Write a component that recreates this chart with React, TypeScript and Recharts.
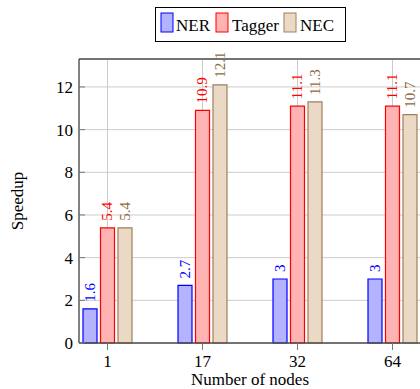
import { BarChart, Bar, XAxis, YAxis, CartesianGrid, LabelList } from "recharts";

const nodeCounts = ["1", "17", "32", "64"];
const nerSpeedup = [1.6, 2.7, 3, 3];
const taggerSpeedup = [5.4, 10.9, 11.1, 11.1];
const necSpeedup = [5.4, 12.1, 11.3, 10.7];
const yTicks = [0, 2, 4, 6, 8, 10, 12];

const seriesStyle = [
    { key: "NER", fill: "#b3b3ff", stroke: "#0000ff", text: "#0000ff" },
    { key: "Tagger", fill: "#ffb3b3", stroke: "#ff0000", text: "#ff0000" },
    { key: "NEC", fill: "#ebd9c5", stroke: "#a0805c", text: "#8f6a45" },
];

const data = nodeCounts.map((n, i) => ({
    idx: i,
    nodes: n,
    NER: nerSpeedup[i],
    Tagger: taggerSpeedup[i],
    NEC: necSpeedup[i],
}));

const FONT = "'Liberation Serif', 'Times New Roman', serif";
const AXIS = "#4d4d4d";
const GRID = "#cccccc";

const makeValueLabel = (color: string) => (props: any) => {
    const { x, y, width, value } = props;
    const cx = Number(x) + Number(width) / 2;
    const ty = Number(y) - 7;
    return (
        <text
            x={cx}
            y={ty}
            transform={`rotate(-90 ${cx} ${ty})`}
            textAnchor="start"
            dominantBaseline="central"
            fill={color}
            fontSize={15}
            style={{ fontFamily: FONT }}
        >
            {value}
        </text>
    );
};

function ChartLegend() {
    const items = [
        { s: seriesStyle[0], sx: 6, tx: 21 },
        { s: seriesStyle[1], sx: 61, tx: 77 },
        { s: seriesStyle[2], sx: 129, tx: 145 },
    ];
    return (
        <svg width={192} height={36} style={{ position: "absolute", left: 155, top: 7 }}>
            <rect x={0.5} y={0.5} width={190} height={34} fill="#fff" stroke="#000" />
            {items.map(({ s, sx, tx }) => (
                <g key={s.key}>
                    <rect x={sx} y={6} width={12} height={19} fill={s.fill} stroke={s.stroke} />
                    <text x={tx} y={24} fontSize={17} style={{ fontFamily: FONT }} fill="#000">
                        {s.key}
                    </text>
                </g>
            ))}
        </svg>
    );
}

const tickStyle = { fill: "#000", fontSize: 17, fontFamily: FONT, style: { fontFamily: FONT } };

export default function App() {
    return (
        <div
            style={{
                position: "absolute",
                left: 0,
                top: 0,
                width: 420,
                height: 389,
                overflow: "hidden",
                background: "#fff",
                fontFamily: FONT,
            }}
        >
            <BarChart
                width={440}
                height={389}
                data={data}
                margin={{ top: 52, right: 19, left: 0, bottom: 0 }}
                barSize={14}
                barGap={3.5}
                style={{ fontFamily: FONT }}
            >
                <CartesianGrid stroke={GRID} strokeWidth={1} />
                <XAxis
                    dataKey="idx"
                    type="number"
                    domain={[-0.3, 3.3]}
                    ticks={[0, 1, 2, 3]}
                    tickFormatter={(v: number) => nodeCounts[v] ?? ""}
                    height={46}
                    stroke={AXIS}
                    axisLine={{ stroke: AXIS, strokeWidth: 1.3 }}
                    tickLine={{ stroke: "#777" }}
                    tickSize={7}
                    tickMargin={5}
                    tick={tickStyle}
                    label={() => (
                        <text
                            x={250}
                            y={385}
                            textAnchor="middle"
                            fontSize={17}
                            style={{ fontFamily: FONT }}
                            fill="#000"
                        >
                            Number of nodes
                        </text>
                    )}
                />
                <XAxis
                    xAxisId="top"
                    orientation="top"
                    dataKey="idx"
                    type="number"
                    domain={[-0.3, 3.3]}
                    ticks={[0, 1, 2, 3]}
                    height={7}
                    axisLine={{ stroke: AXIS, strokeWidth: 1.3 }}
                    tickLine={{ stroke: "#777" }}
                    tickSize={7}
                    tick={false}
                />
                <YAxis
                    domain={[0, 13.31]}
                    ticks={yTicks}
                    width={79}
                    axisLine={{ stroke: AXIS, strokeWidth: 1.3 }}
                    tickLine={{ stroke: "#777" }}
                    tickSize={-6}
                    tickMargin={12}
                    tick={tickStyle}
                    label={() => (
                        <text
                            x={17}
                            y={201}
                            transform="rotate(-90 17 201)"
                            textAnchor="middle"
                            dominantBaseline="central"
                            fontSize={17}
                            style={{ fontFamily: FONT }}
                            fill="#000"
                        >
                            Speedup
                        </text>
                    )}
                />
                {seriesStyle.map((s) => (
                    <Bar
                        key={s.key}
                        dataKey={s.key}
                        fill={s.fill}
                        stroke={s.stroke}
                        strokeWidth={1.2}
                        isAnimationActive={false}
                    >
                        <LabelList dataKey={s.key} content={makeValueLabel(s.text)} />
                    </Bar>
                ))}
            </BarChart>
            <ChartLegend />
        </div>
    );
}
